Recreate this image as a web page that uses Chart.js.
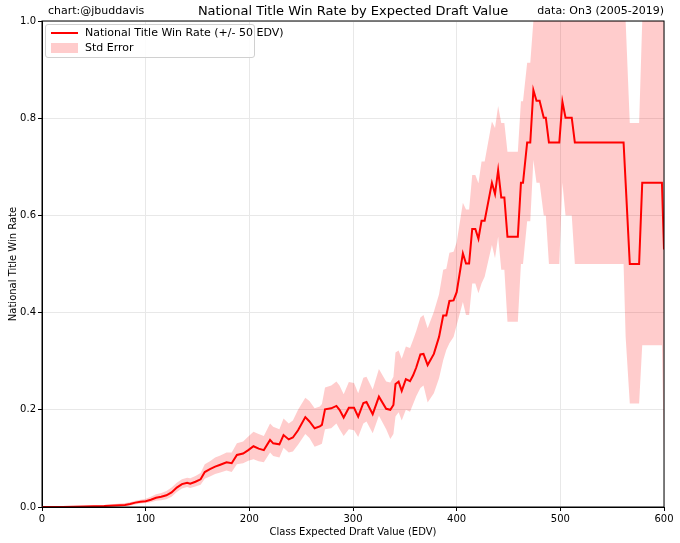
<!DOCTYPE html>
<html>
<head>
<meta charset="utf-8">
<script src="https://cdn.jsdelivr.net/npm/chart.js@4/dist/chart.umd.min.js"></script>
<style>
  body { margin: 0; background: #fff; font-family: "DejaVu Sans", sans-serif; }
  #wrap { position: relative; width: 680px; height: 543px; }
  .hdr { position: absolute; top: 4px; font-size: 11px; color: #000; white-space: nowrap; }
  #ttl { left: 42px; width: 622px; text-align: center; font-size: 13px; top: 3px; }
  #who { left: 48px; }
  #src { right: 16px; }
  #legend { position: absolute; left: 45px; top: 24px; width: 208px; height: 32px;
    border: 1px solid #d0d0d0; border-radius: 3px; background: rgba(255,255,255,0.85);
    font-size: 11px; }
  .row { position: absolute; left: 5px; height: 14px; line-height: 14px; white-space: nowrap; }
  .sw { display: inline-block; width: 27px; vertical-align: middle; margin-right: 7px; }
</style>
</head>
<body>
<div id="wrap">
  <canvas id="mycanvas" width="680" height="543"></canvas>
  <div class="hdr" id="who">chart:@jbuddavis</div>
  <div class="hdr" id="ttl">National Title Win Rate by Expected Draft Value</div>
  <div class="hdr" id="src">data: On3 (2005-2019)</div>
  <div id="legend">
    <div class="row" style="top:1px"><span class="sw" style="height:0;border-top:2px solid #ff0000"></span>National Title Win Rate (+/- 50 EDV)</div>
    <div class="row" style="top:16px"><span class="sw" style="height:10px;background:#ffcccc"></span>Std Error</div>
  </div>
</div>
<script>
// class EDV positions (x)
var edv = [0, 20, 40, 60, 70, 80, 85, 90, 95, 100, 105, 110, 115, 120, 125, 130, 135, 140, 143, 148,
  153, 157, 162, 167, 172, 178, 183, 188, 194, 199, 204, 209, 214, 220, 223, 229, 233, 238, 242, 247,
  254, 258, 263, 268, 270, 273, 279, 284, 287, 291, 296, 301, 305, 310, 313, 319, 325, 332, 336, 339,
  341, 344, 347, 351, 355, 358, 361, 365, 368, 372, 378, 383, 387, 390, 393, 397, 400, 406, 409, 412,
  415, 418, 421, 424, 427, 434, 437, 440, 443, 446, 449, 459, 462, 464, 468, 471, 474, 477, 480, 484,
  486, 489, 499, 502, 505, 511, 514, 561, 563, 567, 576, 579, 598, 600];

// win rate (+/- 50 EDV)
var winRate = [0, 0, 0.001, 0.002, 0.003, 0.004, 0.006, 0.009, 0.011, 0.012, 0.015, 0.019, 0.021, 0.024, 0.03, 0.04, 0.047, 0.05, 0.048, 0.052,
  0.057, 0.072, 0.078, 0.083, 0.087, 0.092, 0.09, 0.107, 0.11, 0.117, 0.125, 0.12, 0.117, 0.138, 0.131, 0.129, 0.148, 0.139, 0.143, 0.158,
  0.185, 0.176, 0.162, 0.166, 0.169, 0.201, 0.203, 0.208, 0.2, 0.184, 0.204, 0.204, 0.186, 0.214, 0.216, 0.191, 0.227, 0.202, 0.2, 0.21,
  0.253, 0.258, 0.239, 0.263, 0.259, 0.271, 0.287, 0.314, 0.315, 0.292, 0.315, 0.35, 0.394, 0.394, 0.424, 0.425, 0.442, 0.522, 0.501, 0.501,
  0.572, 0.572, 0.552, 0.589, 0.589, 0.667, 0.644, 0.693, 0.637, 0.637, 0.556, 0.556, 0.667, 0.667, 0.75, 0.75, 0.858, 0.836, 0.836, 0.801,
  0.801, 0.75, 0.75, 0.834, 0.801, 0.801, 0.75, 0.75, 0.667, 0.5, 0.5, 0.667, 0.667, 0.53];

// std error band, upper edge
var seUpper = [0.001, 0.001, 0.002, 0.004, 0.006, 0.008, 0.01, 0.013, 0.015, 0.017, 0.021, 0.026, 0.029, 0.033, 0.04, 0.05, 0.057, 0.06, 0.059, 0.064,
  0.07, 0.088, 0.094, 0.102, 0.106, 0.112, 0.112, 0.131, 0.135, 0.145, 0.155, 0.15, 0.146, 0.172, 0.165, 0.16, 0.182, 0.172, 0.178, 0.2,
  0.225, 0.218, 0.203, 0.207, 0.212, 0.246, 0.25, 0.258, 0.25, 0.232, 0.257, 0.255, 0.234, 0.266, 0.268, 0.242, 0.284, 0.258, 0.256, 0.268,
  0.318, 0.322, 0.305, 0.33, 0.327, 0.344, 0.362, 0.39, 0.395, 0.368, 0.402, 0.438, 0.488, 0.49, 0.523, 0.525, 0.545, 0.626, 0.612, 0.612,
  0.683, 0.683, 0.666, 0.711, 0.711, 0.793, 0.78, 0.825, 0.79, 0.79, 0.731, 0.731, 0.835, 0.835, 0.914, 0.914, 1.0, 1.0, 1.0, 1.0,
  1.0, 1.0, 1.0, 1.0, 1.0, 1.0, 1.0, 1.0, 1.0, 0.79, 0.79, 1.0, 1.0, 1.0];

// std error band, lower edge
var seLower = [0, 0, 0, 0.001, 0.001, 0.002, 0.003, 0.005, 0.007, 0.008, 0.01, 0.013, 0.014, 0.016, 0.021, 0.031, 0.038, 0.041, 0.039, 0.042,
  0.046, 0.058, 0.063, 0.068, 0.071, 0.075, 0.072, 0.088, 0.09, 0.095, 0.098, 0.094, 0.092, 0.112, 0.105, 0.102, 0.122, 0.112, 0.114, 0.128,
  0.15, 0.142, 0.124, 0.128, 0.13, 0.16, 0.162, 0.172, 0.16, 0.146, 0.16, 0.158, 0.144, 0.172, 0.176, 0.152, 0.188, 0.16, 0.14, 0.15,
  0.186, 0.195, 0.178, 0.2, 0.196, 0.212, 0.228, 0.245, 0.25, 0.215, 0.234, 0.265, 0.302, 0.323, 0.337, 0.35, 0.374, 0.422, 0.395, 0.395,
  0.46, 0.46, 0.44, 0.46, 0.474, 0.539, 0.512, 0.556, 0.488, 0.488, 0.381, 0.381, 0.5, 0.5, 0.588, 0.588, 0.714, 0.667, 0.667, 0.6,
  0.6, 0.5, 0.5, 0.667, 0.6, 0.6, 0.5, 0.5, 0.35, 0.213, 0.213, 0.333, 0.333, 0.1];

var xTicks = [0, 100, 200, 300, 400, 500, 600];
var yTicks = [0, 0.2, 0.4, 0.6, 0.8, 1.0];

function pts(ys) {
  return edv.map(function(x, i) { return { x: x, y: ys[i] }; });
}

// box round the plot like matplotlib spines
var frame = {
  id: 'frame',
  afterDraw: function(chart) {
    var a = chart.chartArea, c = chart.ctx;
    c.save();
    c.strokeStyle = '#000';
    c.lineWidth = 1;
    c.strokeRect(a.left, a.top, a.right - a.left, a.bottom - a.top);
    c.restore();
  }
};

var font = { family: 'DejaVu Sans', size: 10 };

new Chart(document.getElementById('mycanvas'), {
  type: 'line',
  data: {
    datasets: [
      { label: 'National Title Win Rate (+/- 50 EDV)', data: pts(winRate), borderColor: '#ff0000',
        borderWidth: 2, pointRadius: 0, fill: false, order: 0 },
      { label: 'upper', data: pts(seUpper), borderWidth: 0, borderColor: 'rgba(0,0,0,0)', pointRadius: 0,
        backgroundColor: 'rgba(255,0,0,0.2)', fill: '+1', order: 1 },
      { label: 'Std Error', data: pts(seLower), borderWidth: 0, borderColor: 'rgba(0,0,0,0)', pointRadius: 0,
        fill: false, order: 1 }
    ]
  },
  options: {
    responsive: false,
    animation: false,
    layout: { padding: { top: 21, right: 16, left: 0, bottom: 0 } },
    plugins: { legend: { display: false }, tooltip: { enabled: false } },
    scales: {
      x: {
        type: 'linear', min: 0, max: 600,
        afterBuildTicks: function(s) { s.ticks = xTicks.map(function(v) { return { value: v }; }); },
        afterFit: function(s) { s.height = 36; },
        ticks: { color: '#000', font: font, padding: 2, maxRotation: 0 },
        grid: { color: '#e8e8e8', tickColor: '#000', tickLength: 4 },
        border: { color: '#000' },
        title: { display: true, text: 'Class Expected Draft Value (EDV)', color: '#000', font: font, padding: { top: 0, bottom: 5 } }
      },
      y: {
        min: 0, max: 1,
        afterBuildTicks: function(s) { s.ticks = yTicks.map(function(v) { return { value: v }; }); },
        afterFit: function(s) { s.width = 42; },
        ticks: { color: '#000', font: font, padding: 2, callback: function(v) { return v.toFixed(1); } },
        grid: { color: '#e8e8e8', tickColor: '#000', tickLength: 4 },
        border: { color: '#000' },
        title: { display: true, text: 'National Title Win Rate', color: '#000', font: font, padding: { top: 7, bottom: 0 } }
      }
    }
  },
  plugins: [frame]
});
</script>
</body>
</html>
